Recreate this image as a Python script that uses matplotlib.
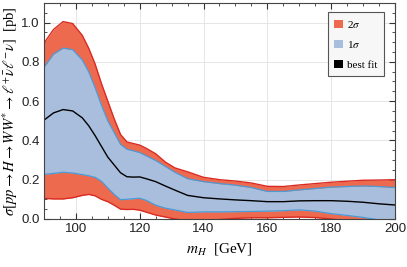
import matplotlib
matplotlib.use("Agg")
import matplotlib.pyplot as plt
from matplotlib.patches import Patch
from matplotlib.ticker import MultipleLocator

plt.rcParams['mathtext.fontset'] = 'stix'

# Higgs mass grid [GeV]
m_h = [90, 93, 96, 99, 102, 104, 106, 108, 110, 112, 114, 116, 118, 120, 122, 125,
       128, 131, 135, 140, 145, 150, 155, 160, 165, 170, 175, 180, 185, 190, 195, 200]

# band edges and best fit [pb]
up_2s = [0.895, 0.965, 1.005, 0.995, 0.935, 0.87, 0.79, 0.69, 0.60, 0.51, 0.43, 0.392,
         0.384, 0.376, 0.36, 0.332, 0.29, 0.26, 0.24, 0.212, 0.20, 0.193, 0.183, 0.166,
         0.165, 0.173, 0.18, 0.187, 0.192, 0.197, 0.198, 0.20]
up_1s = [0.773, 0.84, 0.87, 0.862, 0.81, 0.75, 0.67, 0.58, 0.50, 0.44, 0.38, 0.355,
         0.347, 0.338, 0.322, 0.298, 0.268, 0.238, 0.205, 0.19, 0.18, 0.172, 0.16, 0.14,
         0.14, 0.148, 0.155, 0.162, 0.165, 0.168, 0.165, 0.16]
best = [0.503, 0.54, 0.557, 0.55, 0.515, 0.475, 0.425, 0.37, 0.315, 0.275, 0.235, 0.215,
        0.213, 0.214, 0.205, 0.19, 0.168, 0.147, 0.12, 0.108, 0.102, 0.097, 0.093, 0.088,
        0.088, 0.092, 0.093, 0.093, 0.09, 0.085, 0.077, 0.071]
lo_1s = [0.227, 0.232, 0.238, 0.234, 0.226, 0.22, 0.212, 0.192, 0.158, 0.125, 0.098, 0.10,
         0.103, 0.105, 0.095, 0.07, 0.055, 0.046, 0.033, 0.036, 0.036, 0.037, 0.038, 0.04,
         0.042, 0.046, 0.04, 0.027, 0.018, 0.008, -0.005, -0.02]
lo_2s = [0.105, 0.102, 0.102, 0.108, 0.12, 0.125, 0.118, 0.10, 0.088, 0.07, 0.05, 0.048,
         0.049, 0.045, 0.035, 0.02, 0.01, 0.0, -0.01, -0.01, -0.003, 0.003, 0.006, 0.006,
         0.008, 0.01, 0.007, 0.0, -0.01, -0.02, -0.03, -0.04]

red_fill = '#EE6A4F'
red_line = '#D92B22'
blue_fill = '#A8BEDC'
blue_line = '#4A9BD6'

fig = plt.figure(figsize=(4.07, 2.67), dpi=100)
ax = fig.add_axes([0.108, 0.18, 0.8625, 0.809])

ax.fill_between(m_h, lo_2s, up_2s, color=red_fill, lw=0, zorder=1)
ax.fill_between(m_h, lo_1s, up_1s, color=blue_fill, lw=0, zorder=2)
ax.plot(m_h, up_2s, color=red_line, lw=1.0, zorder=3)
ax.plot(m_h, lo_2s, color=red_line, lw=1.0, zorder=3)
ax.plot(m_h, up_1s, color=blue_line, lw=0.9, zorder=4)
ax.plot(m_h, lo_1s, color=blue_line, lw=0.9, zorder=4)
ax.plot(m_h, best, color='black', lw=1.0, zorder=5)

ax.set_xlim(90, 200)
ax.set_ylim(0, 1.1)
ax.xaxis.set_major_locator(MultipleLocator(20))
ax.xaxis.set_minor_locator(MultipleLocator(5))
ax.yaxis.set_major_locator(MultipleLocator(0.2))
ax.yaxis.set_minor_locator(MultipleLocator(0.05))
ax.yaxis.set_major_formatter(plt.FuncFormatter(lambda v, p: f"{v:.1f}"))
ax.tick_params(which='both', direction='in', top=True, right=True,
               labelsize=9.5, colors='#333333', labelcolor='#222222', pad=3)
ax.tick_params(which='major', length=4, width=0.8)
ax.tick_params(which='minor', length=2.5, width=0.6)
for lab in ax.get_xticklabels() + ax.get_yticklabels():
    lab.set_fontfamily('Liberation Sans')
ax.grid(True, which='major', color='#E6E6E6', lw=0.7, zorder=0)
ax.set_axisbelow(True)
for s in ax.spines.values():
    s.set_color('#444444')
    s.set_linewidth(0.8)
    s.set_zorder(6)

ax.set_xlabel(r'$m_H$  [GeV]', fontsize=11, family='Liberation Serif', labelpad=4)
ax.set_ylabel(r'$\sigma[pp \rightarrow H \rightarrow WW^{*} \rightarrow \ell^{+}\bar{\nu}\ell^{-}\nu]$  [pb]',
              fontsize=10.5, family='Liberation Serif', labelpad=1)

handles = [Patch(facecolor=red_fill, edgecolor='none', label=r'2$\sigma$'),
           Patch(facecolor=blue_fill, edgecolor='none', label=r'1$\sigma$'),
           Patch(facecolor='black', edgecolor='none', label='best fit')]
leg = ax.legend(handles=handles, loc='upper right', bbox_to_anchor=(0.9687, 0.958),
                borderaxespad=0,
                prop={'family': 'Liberation Serif', 'size': 8},
                handlelength=0.75, handleheight=0.75, handletextpad=0.4,
                labelspacing=0.85, borderpad=0.6, fancybox=False, framealpha=1)
leg.get_frame().set_facecolor('#F7F7F7')
leg.get_frame().set_edgecolor('#555555')
leg.get_frame().set_linewidth(0.8)

fig.savefig('out.png', dpi=100)
